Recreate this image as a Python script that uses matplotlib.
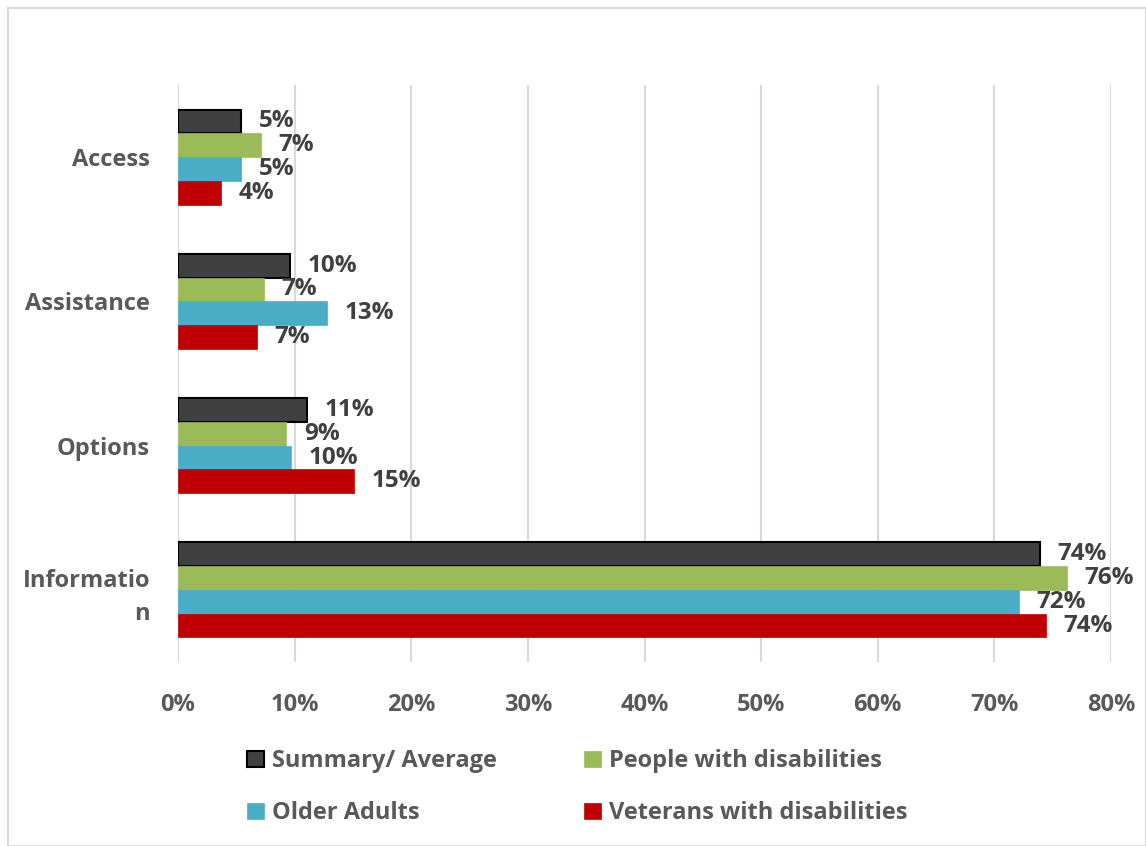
import numpy as np
import matplotlib.pyplot as plt
from matplotlib.patches import Rectangle

categories = ['Access', 'Assistance', 'Options', 'Informatio\nn']
series_names = ['Summary/ Average', 'People with disabilities', 'Older Adults', 'Veterans with disabilities']
summary = [5.4, 9.6, 11.1, 73.9]
people = [7.1, 7.4, 9.3, 76.2]
older = [5.4, 12.8, 9.7, 72.1]
veterans = [3.7, 6.8, 15.1, 74.4]
colors = ['#404040', '#9BBB59', '#4BACC6', '#C00000']
edges = ['black', '#9BBB59', '#4BACC6', '#C00000']

plt.rcParams['font.family'] = ['Open Sans', 'DejaVu Sans']
txt = '#404040'

fig = plt.figure(figsize=(11.46, 8.46), dpi=100)
ax = fig.add_axes([178/1146, 1-662/846, (1111-178)/1146, (662-85)/846])

series = [summary, people, older, veterans]
y = np.arange(len(categories))[::-1].astype(float)
h = 0.165
bars = []
for i, (vals, c, ec, name) in enumerate(zip(series, colors, edges, series_names)):
    pos = y + (1.5 - i) * h
    b = ax.barh(pos, vals, height=h, color=c, edgecolor=ec, linewidth=1.5 if i == 0 else 0.5,
                label=name, zorder=3)
    bars.append(b)
    for p, v in zip(pos, vals):
        ax.text(v + 1.5, p, f'{round(v):.0f}%', va='center', ha='left', fontsize=17.5,
                fontweight='bold', color=txt, zorder=4)

ax.set_xlim(0, 80)
ax.set_ylim(-0.5, 3.5)
ax.set_xticks(np.arange(0, 81, 10))
ax.set_xticklabels([f'{t}%' for t in range(0, 81, 10)])
ax.set_yticks(y)
ax.set_yticklabels(categories, linespacing=1.5)
ax.tick_params(axis='both', length=0, labelsize=17, labelcolor='#595959')
ax.tick_params(axis='y', pad=20)
ax.tick_params(axis='x', pad=22)
for lab in ax.get_xticklabels() + ax.get_yticklabels():
    lab.set_fontweight('bold')
ax.grid(axis='x', color='#D9D9D9', linewidth=1.5, zorder=0)
for s in ax.spines.values():
    s.set_visible(False)

# row-major legend order
order = [0, 2, 1, 3]
leg = fig.legend([bars[k] for k in order], [series_names[k] for k in order],
                 loc='upper left', bbox_to_anchor=(226/1146, 1-728/846), ncol=2,
                 frameon=False, fontsize=17, handlelength=0.7, handleheight=0.7,
                 handletextpad=0.35, columnspacing=3.7, labelspacing=1.18)
for t in leg.get_texts():
    t.set_color('#595959')
    t.set_fontweight('bold')

fig.patches.append(Rectangle((8/1146, 0), 1 - 8/1146, 1 - 8/846, transform=fig.transFigure,
                             fill=False, edgecolor='#D9D9D9', linewidth=1.5))

fig.savefig('out.png', dpi=100)
